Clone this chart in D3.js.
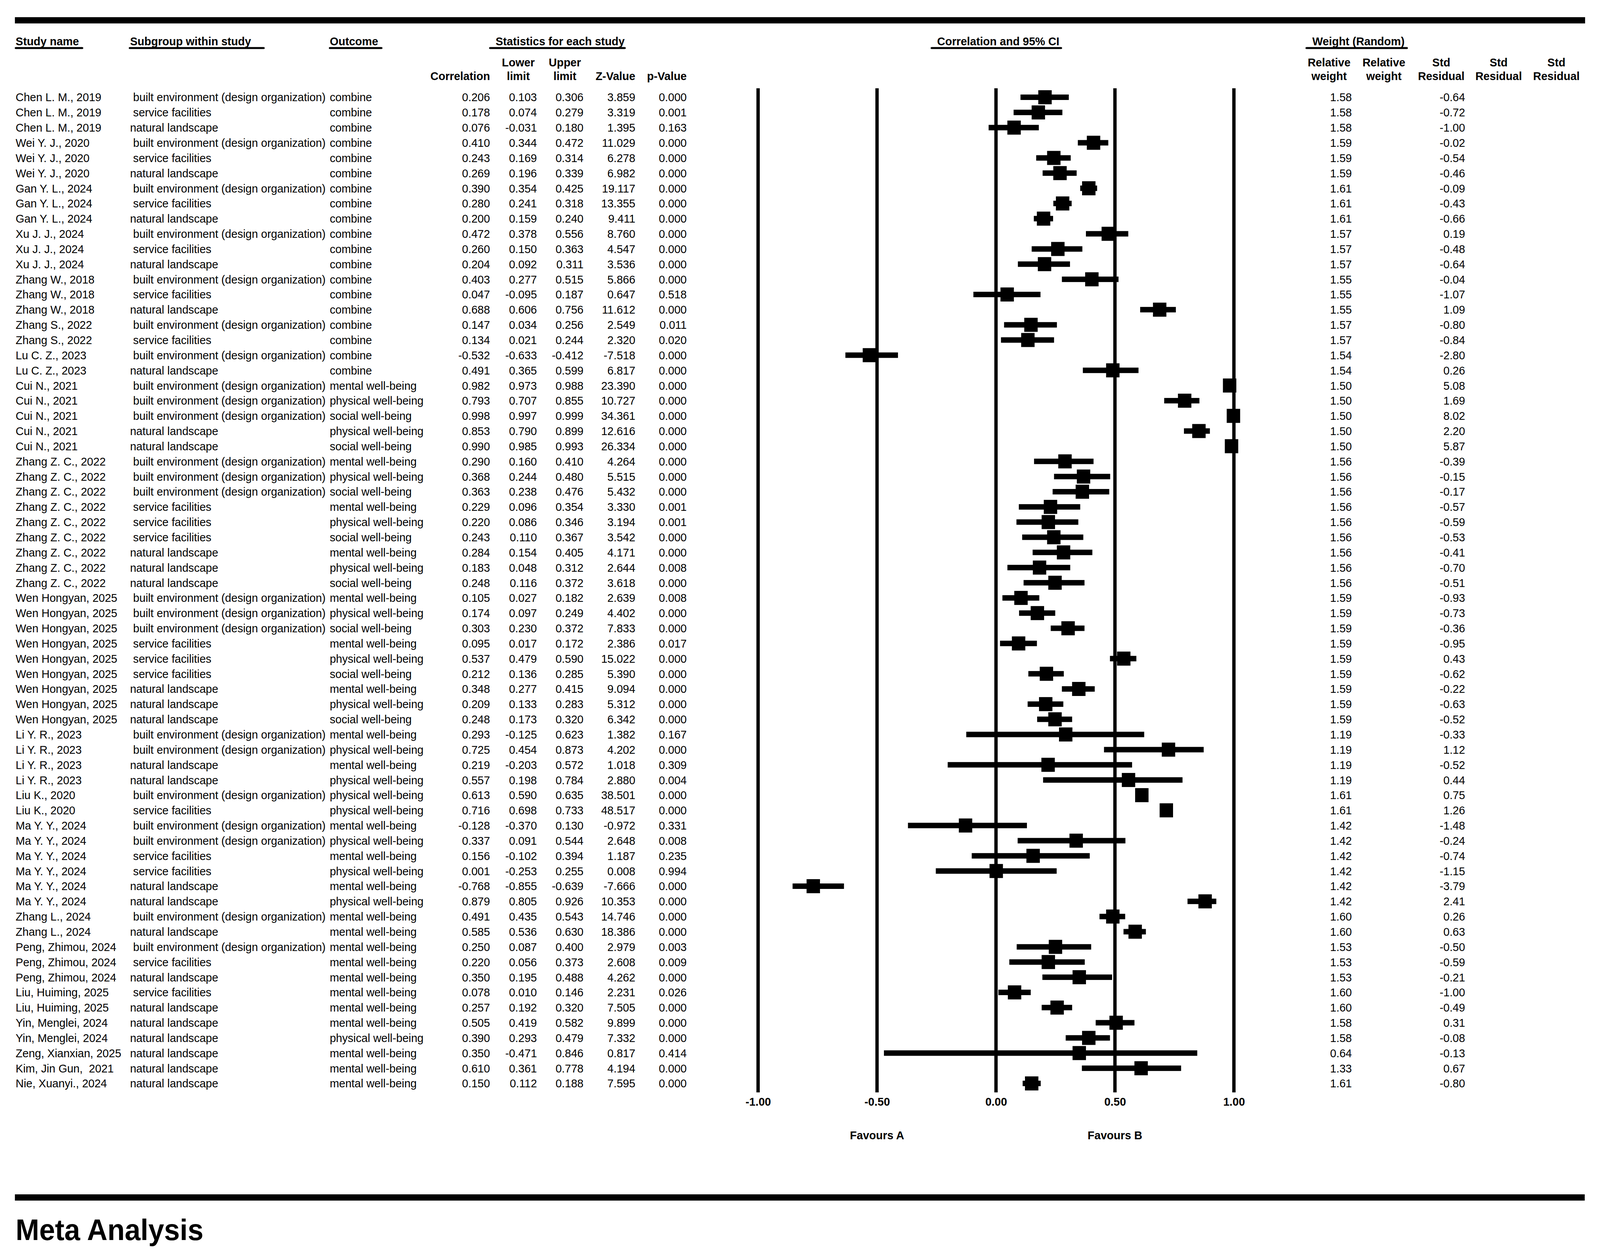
<!DOCTYPE html>
<html>
<head>
<meta charset="utf-8">
<script src="https://cdnjs.cloudflare.com/ajax/libs/d3/7.8.5/d3.min.js"></script>
<style>
  html, body { margin: 0; padding: 0; background: #fff; width: 100%; height: 100%; overflow: hidden; }
  #chart { display: block; width: 100vw; height: 100vh; }
  svg text { white-space: pre; }
</style>
</head>
<body>
<svg id="chart"></svg>
<script>
// forest plot, correlation and 95% CI per study row
var studies = [
  "Chen L. M., 2019", "Chen L. M., 2019", "Chen L. M., 2019",
  "Wei Y. J., 2020", "Wei Y. J., 2020", "Wei Y. J., 2020",
  "Gan Y. L., 2024", "Gan Y. L., 2024", "Gan Y. L., 2024",
  "Xu J. J., 2024", "Xu J. J., 2024", "Xu J. J., 2024",
  "Zhang W., 2018", "Zhang W., 2018", "Zhang W., 2018",
  "Zhang S., 2022", "Zhang S., 2022",
  "Lu C. Z., 2023", "Lu C. Z., 2023",
  "Cui N., 2021", "Cui N., 2021", "Cui N., 2021", "Cui N., 2021", "Cui N., 2021",
  "Zhang Z. C., 2022", "Zhang Z. C., 2022", "Zhang Z. C., 2022",
  "Zhang Z. C., 2022", "Zhang Z. C., 2022", "Zhang Z. C., 2022",
  "Zhang Z. C., 2022", "Zhang Z. C., 2022", "Zhang Z. C., 2022",
  "Wen Hongyan, 2025", "Wen Hongyan, 2025", "Wen Hongyan, 2025",
  "Wen Hongyan, 2025", "Wen Hongyan, 2025", "Wen Hongyan, 2025",
  "Wen Hongyan, 2025", "Wen Hongyan, 2025", "Wen Hongyan, 2025",
  "Li Y. R., 2023", "Li Y. R., 2023", "Li Y. R., 2023", "Li Y. R., 2023",
  "Liu K., 2020", "Liu K., 2020",
  "Ma Y. Y., 2024", "Ma Y. Y., 2024", "Ma Y. Y., 2024",
  "Ma Y. Y., 2024", "Ma Y. Y., 2024", "Ma Y. Y., 2024",
  "Zhang L., 2024", "Zhang L., 2024",
  "Peng, Zhimou, 2024", "Peng, Zhimou, 2024", "Peng, Zhimou, 2024",
  "Liu, Huiming, 2025", "Liu, Huiming, 2025",
  "Yin, Menglei, 2024", "Yin, Menglei, 2024",
  "Zeng, Xianxian, 2025",
  "Kim, Jin Gun,  2021",
  "Nie, Xuanyi., 2024"
];

// B = built environment, S = service facilities, N = natural landscape
var subgroupNames = {
  B: " built environment (design organization)",
  S: " service facilities",
  N: "natural landscape"
};
var subgroups = [
  "B","S","N", "B","S","N", "B","S","N", "B","S","N", "B","S","N",
  "B","S", "B","N",
  "B","B","B","N","N",
  "B","B","B","S","S","S","N","N","N",
  "B","B","B","S","S","S","N","N","N",
  "B","B","N","N",
  "B","S",
  "B","B","S","S","N","N",
  "B","N",
  "B","S","N",
  "S","N",
  "N","N",
  "N","N","N"
];

var outcomeNames = { C: "combine", M: "mental well-being", P: "physical well-being", S: "social well-being" };
var outcomes = [
  "C","C","C", "C","C","C", "C","C","C", "C","C","C", "C","C","C",
  "C","C", "C","C",
  "M","P","S","P","S",
  "M","P","S","M","P","S","M","P","S",
  "M","P","S","M","P","S","M","P","S",
  "M","P","M","P",
  "P","P",
  "M","P","M","P","M","P",
  "M","M",
  "M","M","M",
  "M","M",
  "M","P",
  "M","M","M"
];

var correlation = [
  0.206, 0.178, 0.076, 0.410, 0.243, 0.269, 0.390, 0.280, 0.200,
  0.472, 0.260, 0.204, 0.403, 0.047, 0.688, 0.147, 0.134, -0.532, 0.491,
  0.982, 0.793, 0.998, 0.853, 0.990,
  0.290, 0.368, 0.363, 0.229, 0.220, 0.243, 0.284, 0.183, 0.248,
  0.105, 0.174, 0.303, 0.095, 0.537, 0.212, 0.348, 0.209, 0.248,
  0.293, 0.725, 0.219, 0.557, 0.613, 0.716,
  -0.128, 0.337, 0.156, 0.001, -0.768, 0.879,
  0.491, 0.585, 0.250, 0.220, 0.350, 0.078, 0.257,
  0.505, 0.390, 0.350, 0.610, 0.150
];
var lowerLimit = [
  0.103, 0.074, -0.031, 0.344, 0.169, 0.196, 0.354, 0.241, 0.159,
  0.378, 0.150, 0.092, 0.277, -0.095, 0.606, 0.034, 0.021, -0.633, 0.365,
  0.973, 0.707, 0.997, 0.790, 0.985,
  0.160, 0.244, 0.238, 0.096, 0.086, 0.110, 0.154, 0.048, 0.116,
  0.027, 0.097, 0.230, 0.017, 0.479, 0.136, 0.277, 0.133, 0.173,
  -0.125, 0.454, -0.203, 0.198, 0.590, 0.698,
  -0.370, 0.091, -0.102, -0.253, -0.855, 0.805,
  0.435, 0.536, 0.087, 0.056, 0.195, 0.010, 0.192,
  0.419, 0.293, -0.471, 0.361, 0.112
];
var upperLimit = [
  0.306, 0.279, 0.180, 0.472, 0.314, 0.339, 0.425, 0.318, 0.240,
  0.556, 0.363, 0.311, 0.515, 0.187, 0.756, 0.256, 0.244, -0.412, 0.599,
  0.988, 0.855, 0.999, 0.899, 0.993,
  0.410, 0.480, 0.476, 0.354, 0.346, 0.367, 0.405, 0.312, 0.372,
  0.182, 0.249, 0.372, 0.172, 0.590, 0.285, 0.415, 0.283, 0.320,
  0.623, 0.873, 0.572, 0.784, 0.635, 0.733,
  0.130, 0.544, 0.394, 0.255, -0.639, 0.926,
  0.543, 0.630, 0.400, 0.373, 0.488, 0.146, 0.320,
  0.582, 0.479, 0.846, 0.778, 0.188
];
var zValue = [
  3.859, 3.319, 1.395, 11.029, 6.278, 6.982, 19.117, 13.355, 9.411,
  8.760, 4.547, 3.536, 5.866, 0.647, 11.612, 2.549, 2.320, -7.518, 6.817,
  23.390, 10.727, 34.361, 12.616, 26.334,
  4.264, 5.515, 5.432, 3.330, 3.194, 3.542, 4.171, 2.644, 3.618,
  2.639, 4.402, 7.833, 2.386, 15.022, 5.390, 9.094, 5.312, 6.342,
  1.382, 4.202, 1.018, 2.880, 38.501, 48.517,
  -0.972, 2.648, 1.187, 0.008, -7.666, 10.353,
  14.746, 18.386, 2.979, 2.608, 4.262, 2.231, 7.505,
  9.899, 7.332, 0.817, 4.194, 7.595
];
var pValue = [
  0.000, 0.001, 0.163, 0.000, 0.000, 0.000, 0.000, 0.000, 0.000,
  0.000, 0.000, 0.000, 0.000, 0.518, 0.000, 0.011, 0.020, 0.000, 0.000,
  0.000, 0.000, 0.000, 0.000, 0.000,
  0.000, 0.000, 0.000, 0.001, 0.001, 0.000, 0.000, 0.008, 0.000,
  0.008, 0.000, 0.000, 0.017, 0.000, 0.000, 0.000, 0.000, 0.000,
  0.167, 0.000, 0.309, 0.004, 0.000, 0.000,
  0.331, 0.008, 0.235, 0.994, 0.000, 0.000,
  0.000, 0.000, 0.003, 0.009, 0.000, 0.026, 0.000,
  0.000, 0.000, 0.414, 0.000, 0.000
];
var relativeWeight = [
  1.58, 1.58, 1.58, 1.59, 1.59, 1.59, 1.61, 1.61, 1.61,
  1.57, 1.57, 1.57, 1.55, 1.55, 1.55, 1.57, 1.57, 1.54, 1.54,
  1.50, 1.50, 1.50, 1.50, 1.50,
  1.56, 1.56, 1.56, 1.56, 1.56, 1.56, 1.56, 1.56, 1.56,
  1.59, 1.59, 1.59, 1.59, 1.59, 1.59, 1.59, 1.59, 1.59,
  1.19, 1.19, 1.19, 1.19, 1.61, 1.61,
  1.42, 1.42, 1.42, 1.42, 1.42, 1.42,
  1.60, 1.60, 1.53, 1.53, 1.53, 1.60, 1.60,
  1.58, 1.58, 0.64, 1.33, 1.61
];
var stdResidual = [
  -0.64, -0.72, -1.00, -0.02, -0.54, -0.46, -0.09, -0.43, -0.66,
  0.19, -0.48, -0.64, -0.04, -1.07, 1.09, -0.80, -0.84, -2.80, 0.26,
  5.08, 1.69, 8.02, 2.20, 5.87,
  -0.39, -0.15, -0.17, -0.57, -0.59, -0.53, -0.41, -0.70, -0.51,
  -0.93, -0.73, -0.36, -0.95, 0.43, -0.62, -0.22, -0.63, -0.52,
  -0.33, 1.12, -0.52, 0.44, 0.75, 1.26,
  -1.48, -0.24, -0.74, -1.15, -3.79, 2.41,
  0.26, 0.63, -0.50, -0.59, -0.21, -1.00, -0.49,
  0.31, -0.08, -0.13, 0.67, -0.80
];

var axisTicks = [-1, -0.5, 0, 0.5, 1];

var W = 4294, H = 3221;
var FONT = '"Liberation Sans", Arial, Helvetica, sans-serif';
var FS = 30;

// drawn in the reference's 4294x3221 space, stretched over the whole window
var svg = d3.select('#chart')
  .attr('viewBox', '0 0 ' + W + ' ' + H)
  .attr('preserveAspectRatio', 'none')
  .style('font-family', FONT);

svg.append('rect').attr('width', W).attr('height', H).attr('fill', '#fff');

var n = studies.length;
var y = d3.scaleLinear().domain([0, n - 1]).range([249, 2774]);
var x = d3.scaleLinear().domain([-1, 1]).range([2034.5, 3311.5]);
var base = 10.5; // row centre -> text baseline

// thick rules top and bottom
svg.append('rect').attr('x', 40).attr('y', 44).attr('width', 4214).attr('height', 16).attr('fill', '#000');
svg.append('rect').attr('x', 40).attr('y', 3058).attr('width', 4213).attr('height', 16).attr('fill', '#000');

// group headers with underline
var groupHeads = [
  { t: 'Study name', x: 42, u0: 42, u1: 221 },
  { t: 'Subgroup within study', x: 349, u0: 348, u1: 708 },
  { t: 'Outcome', x: 885, u0: 885, u1: 1024 },
  { t: 'Statistics for each study', x: 1330, u0: 1315, u1: 1677 },
  { t: 'Correlation and 95% CI', x: 2515, u0: 2500, u1: 2848 },
  { t: 'Weight (Random)', x: 3522, u0: 3506, u1: 3776 }
];
var gh = svg.append('g').attr('class', 'group-heads');
groupHeads.forEach(function(h) {
  gh.append('text')
    .attr('x', h.x).attr('y', 116)
    .attr('font-size', FS).attr('font-weight', 'bold')
    .text(h.t);
  gh.append('line')
    .attr('x1', h.u0).attr('x2', h.u1)
    .attr('y1', 123).attr('y2', 123)
    .attr('stroke', '#000').attr('stroke-width', 5)
    .attr('stroke-linecap', 'round');
});

// column sub headers (two lines)
var colHeads = [
  { l1: '', l2: 'Correlation', x: 1315, a: 'end' },
  { l1: 'Lower', l2: 'limit', x: 1391, a: 'middle' },
  { l1: 'Upper', l2: 'limit', x: 1516, a: 'middle' },
  { l1: '', l2: 'Z-Value', x: 1705, a: 'end' },
  { l1: '', l2: 'p-Value', x: 1843, a: 'end' },
  { l1: 'Relative', l2: 'weight', x: 3567, a: 'middle' },
  { l1: 'Relative', l2: 'weight', x: 3714, a: 'middle' },
  { l1: 'Std', l2: 'Residual', x: 3868, a: 'middle' },
  { l1: 'Std', l2: 'Residual', x: 4022, a: 'middle' },
  { l1: 'Std', l2: 'Residual', x: 4177, a: 'middle' }
];
var ch = svg.append('g').attr('class', 'col-heads')
  .attr('font-size', FS).attr('font-weight', 'bold');
colHeads.forEach(function(h) {
  if (h.l1) ch.append('text').attr('x', h.x).attr('y', 170).attr('text-anchor', h.a).text(h.l1);
  ch.append('text').attr('x', h.x).attr('y', 205).attr('text-anchor', h.a).text(h.l2);
});

// table body
var rows = d3.range(n);
var tbl = svg.append('g').attr('class', 'table').attr('font-size', FS);

function textCol(accessor, xPos, anchor) {
  tbl.append('g')
    .selectAll('text')
    .data(rows)
    .join('text')
      .attr('x', xPos)
      .attr('y', function(i) { return y(i) + base; })
      .attr('text-anchor', anchor)
      .attr('xml:space', 'preserve')
      .text(accessor);
}

textCol(function(i) { return studies[i]; }, 42, 'start');
textCol(function(i) { return subgroupNames[subgroups[i]]; }, 349, 'start');
textCol(function(i) { return outcomeNames[outcomes[i]]; }, 885, 'start');

var numCols = [
  { v: correlation, d: 3, x: 1315 },
  { v: lowerLimit, d: 3, x: 1441 },
  { v: upperLimit, d: 3, x: 1566 },
  { v: zValue, d: 3, x: 1705 },
  { v: pValue, d: 3, x: 1843 },
  { v: relativeWeight, d: 2, x: 3628 },
  { v: stdResidual, d: 2, x: 3932 }
];
numCols.forEach(function(c) {
  textCol(function(i) { return c.v[i].toFixed(c.d); }, c.x, 'end');
});

// plot: vertical reference lines
var plot = svg.append('g').attr('class', 'plot');
plot.append('g')
  .selectAll('line')
  .data(axisTicks)
  .join('line')
    .attr('x1', function(d) { return x(d); })
    .attr('x2', function(d) { return x(d); })
    .attr('y1', 226)
    .attr('y2', 2797)
    .attr('stroke', '#000')
    .attr('stroke-width', 9);

// CI bars
var ciH = 14, box = 36;
plot.append('g')
  .selectAll('rect')
  .data(rows)
  .join('rect')
    .attr('x', function(i) { return x(lowerLimit[i]); })
    .attr('y', function(i) { return y(i) - ciH / 2; })
    .attr('width', function(i) { return x(upperLimit[i]) - x(lowerLimit[i]); })
    .attr('height', ciH)
    .attr('fill', '#000');

// point estimate squares
plot.append('g')
  .selectAll('rect')
  .data(rows)
  .join('rect')
    .attr('x', function(i) { return x(correlation[i]) - box / 2; })
    .attr('y', function(i) { return y(i) - box / 2; })
    .attr('width', box)
    .attr('height', box)
    .attr('fill', '#000');

// axis labels
var axis = d3.axisBottom(x)
  .tickValues(axisTicks)
  .tickSize(0)
  .tickPadding(0)
  .tickFormat(function(d) { return d.toFixed(2); });

var ax = svg.append('g')
  .attr('transform', 'translate(0,2810)')
  .call(axis);
ax.select('.domain').remove();
ax.selectAll('text')
  .attr('font-size', FS)
  .attr('font-weight', 'bold')
  .attr('font-family', FONT)
  .attr('fill', '#000');

svg.append('text')
  .attr('x', x(-0.5)).attr('y', 2917)
  .attr('text-anchor', 'middle')
  .attr('font-size', FS).attr('font-weight', 'bold')
  .text('Favours A');
svg.append('text')
  .attr('x', x(0.5)).attr('y', 2917)
  .attr('text-anchor', 'middle')
  .attr('font-size', FS).attr('font-weight', 'bold')
  .text('Favours B');

// title at the bottom
svg.append('text')
  .attr('x', 42).attr('y', 3175)
  .attr('font-size', 76).attr('font-weight', 'bold')
  .text('Meta Analysis');
</script>
</body>
</html>
